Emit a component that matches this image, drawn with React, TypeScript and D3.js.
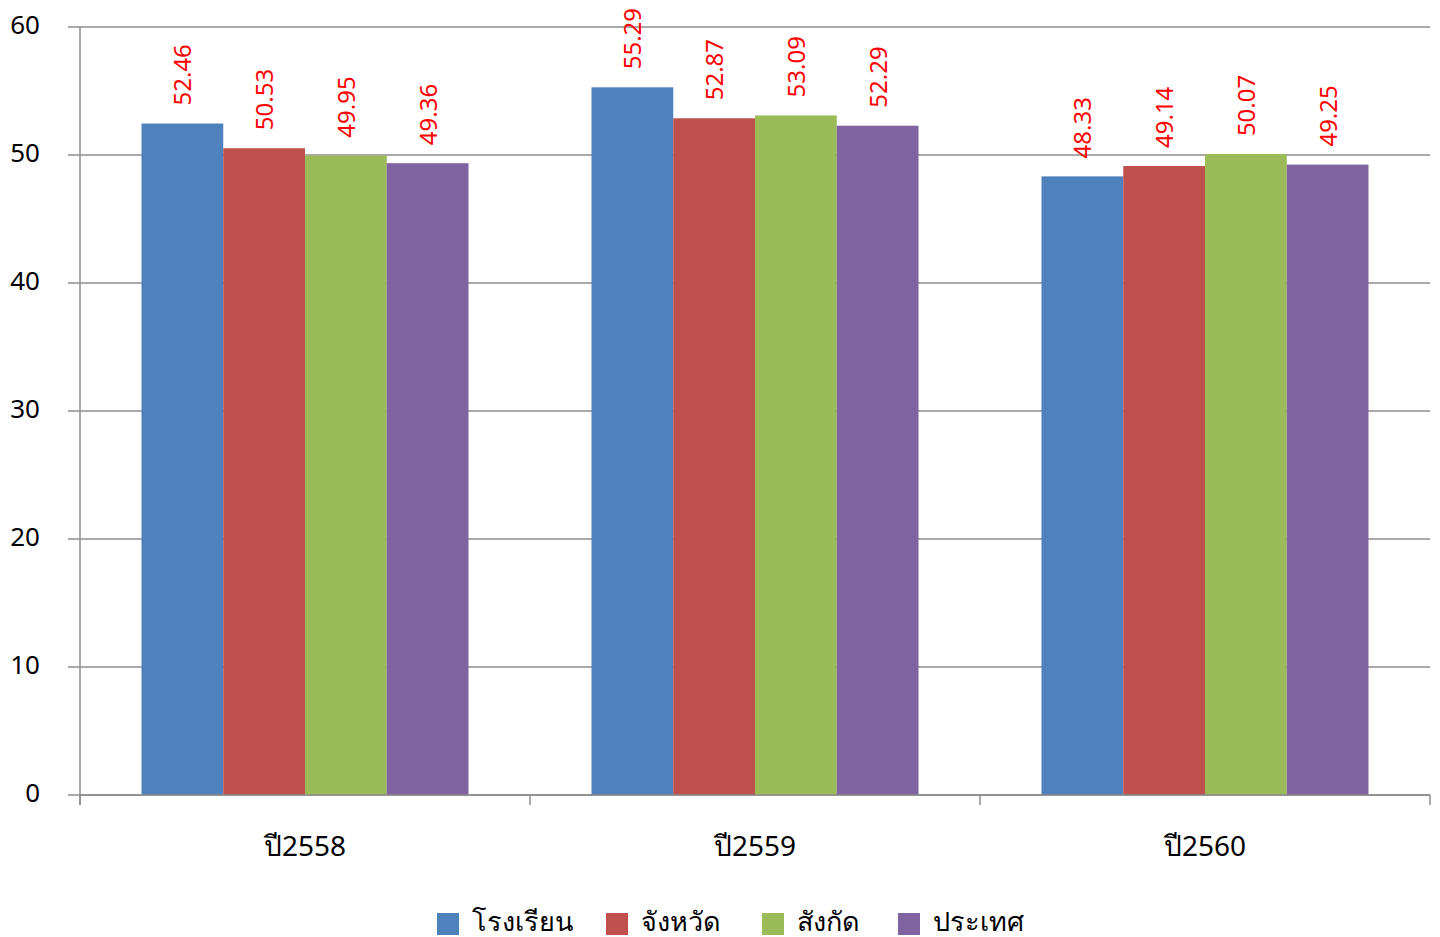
import React from "react";
import * as d3 from "d3";

const categories = ["ปี2558", "ปี2559", "ปี2560"];
const seriesNames = ["โรงเรียน", "จังหวัด", "สังกัด", "ประเทศ"];
const colors = ["#4F81BD", "#C0504D", "#9BBB59", "#8064A2"];
const school = [52.46, 55.29, 48.33];
const province = [50.53, 52.87, 49.14];
const affiliation = [49.95, 53.09, 50.07];
const country = [49.36, 52.29, 49.25];
const seriesValues = [school, province, affiliation, country];
const yTicks = [0, 10, 20, 30, 40, 50, 60];

const W = 1440;
const H = 937;
const left = 80;
const right = 1430;
const top = 27;
const bottom = 795;
const font = "Tahoma, 'Noto Sans', 'DejaVu Sans', Verdana, sans-serif";

export default function App() {
  const y = d3.scaleLinear().domain([0, 60]).range([bottom, top]);
  const x0 = d3.scaleBand().domain(categories).range([left, right]).paddingInner(0).paddingOuter(0);
  const groupPad = 61.5;
  const x1 = d3
    .scaleBand()
    .domain(seriesNames)
    .range([groupPad, x0.bandwidth() - groupPad])
    .padding(0);

  const legendX = [437, 606, 762, 898];

  return (
    <svg width={W} height={H} style={{ position: "absolute", left: 0, top: 0, background: "#fff" }}>
      {yTicks.map((t) => (
        <g key={t}>
          <line x1={68} x2={right} y1={y(t)} y2={y(t)} stroke="#8C8C8C" strokeWidth={1.5} />
          <text x={40} y={y(t) - 3} textAnchor="end" dominantBaseline="central" fontFamily={font} fontSize={26} fill="#000">
            {t}
          </text>
        </g>
      ))}
      {categories.map((c, ci) => (
        <g key={c}>
          {seriesNames.map((s, si) => {
            const v = seriesValues[si][ci];
            const bx = (x0(c) as number) + (x1(s) as number);
            const bw = x1.bandwidth();
            const cx = bx + bw / 2;
            const ty = y(v) - 18;
            return (
              <g key={s}>
                <rect x={bx} y={y(v)} width={bw} height={bottom - y(v)} fill={colors[si]} />
                <text
                  transform={`translate(${cx + 9},${ty}) rotate(-90)`}
                  textAnchor="start"
                  fontFamily={font}
                  fontSize={24}
                  fill="#FF0000"
                >
                  {v.toFixed(2)}
                </text>
              </g>
            );
          })}
          <text
            x={(x0(c) as number) + x0.bandwidth() / 2}
            y={845}
            textAnchor="middle"
            dominantBaseline="central"
            fontFamily={font}
            fontSize={28}
            fill="#000"
          >
            {c}
          </text>
        </g>
      ))}
      <line x1={left} x2={left} y1={top} y2={bottom + 10} stroke="#8C8C8C" strokeWidth={1.5} />
      <line x1={left} x2={right} y1={bottom} y2={bottom} stroke="#8C8C8C" strokeWidth={1.5} />
      {[0, 1, 2, 3].map((i) => {
        const tx = left + i * x0.step();
        return <line key={i} x1={tx} x2={tx} y1={bottom} y2={bottom + 10} stroke="#8C8C8C" strokeWidth={1.5} />;
      })}
      {seriesNames.map((s, i) => (
        <g key={s}>
          <rect x={legendX[i]} y={913} width={22} height={22} fill={colors[i]} />
          <text x={legendX[i] + 35} y={920} dominantBaseline="central" fontFamily={font} fontSize={27} fill="#000">
            {s}
          </text>
        </g>
      ))}
    </svg>
  );
}
